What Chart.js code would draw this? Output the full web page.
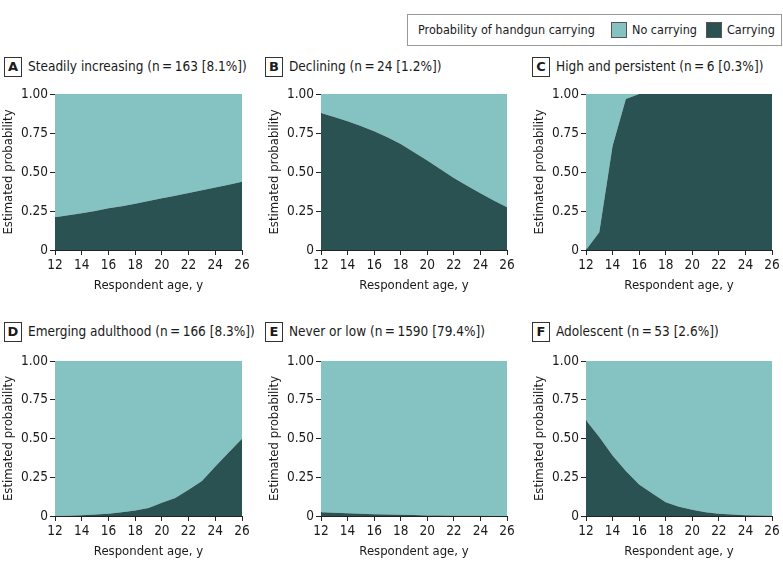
<!DOCTYPE html>
<html>
<head>
<meta charset="utf-8">
<script src="https://cdn.jsdelivr.net/npm/chart.js@4.4.1/dist/chart.umd.min.js"></script>
<style>
  body { margin: 0; width: 783px; height: 569px; background: #fff; position: relative; overflow: hidden;
         font-family: 'DejaVu Sans Condensed', sans-serif; color: #1a1a1a; }
  .legend { position: absolute; left: 407px; top: 14px; width: 375px; height: 32px; border: 1px solid #999;
            box-sizing: border-box; font-size: 12.5px; }
  .legend span { position: absolute; top: 7px; white-space: nowrap; }
  .legend i { position: absolute; top: 7px; width: 16px; height: 16px; border: 1px solid #555; box-sizing: border-box; }
  .ptitle { position: absolute; font-size: 13.5px; white-space: nowrap; }
  .ptitle b { position: absolute; left: 0; top: 0; width: 18px; height: 20px; border: 1px solid #333; box-sizing: border-box;
              text-align: center; line-height: 18px; font-size: 13px; font-family: 'DejaVu Sans', sans-serif; }
  .ptitle span { position: absolute; top: 1px; }
  canvas { position: absolute; }
</style>
</head>
<body>
<div class="legend">
  <span style="left:10px">Probability of handgun carrying</span>
  <i style="left:203px;background:#85c3c2"></i><span style="left:224px">No carrying</span>
  <i style="left:298px;background:#2a5253"></i><span style="left:319px">Carrying</span>
</div>
<script>
const ages = [12, 13, 14, 15, 16, 17, 18, 19, 20, 21, 22, 23, 24, 25, 26]
const yTicks = [0, 0.25, 0.5, 0.75, 1]
const panelLetters = ['A', 'B', 'C', 'D', 'E', 'F']
const panelTitles = [
  'Steadily increasing (n\u2009=\u2009163 [8.1%])',
  'Declining (n\u2009=\u200924 [1.2%])',
  'High and persistent (n\u2009=\u20096 [0.3%])',
  'Emerging adulthood (n\u2009=\u2009166 [8.3%])',
  'Never or low (n\u2009=\u20091590 [79.4%])',
  'Adolescent (n\u2009=\u200953 [2.6%])',
]
// estimated probability of carrying, by age 12..26
const carryA = [0.21, 0.222, 0.235, 0.25, 0.267, 0.281, 0.297, 0.314, 0.332, 0.348, 0.366, 0.383, 0.401, 0.419, 0.437]
const carryB = [0.878, 0.853, 0.825, 0.795, 0.762, 0.722, 0.68, 0.627, 0.574, 0.517, 0.462, 0.412, 0.364, 0.318, 0.274]
const carryC = [0.0, 0.113, 0.667, 0.968, 1.0, 1.0, 1.0, 1.0, 1.0, 1.0, 1.0, 1.0, 1.0, 1.0, 1.0]
const carryD = [0.0, 0.002, 0.005, 0.009, 0.015, 0.024, 0.035, 0.052, 0.085, 0.116, 0.17, 0.226, 0.32, 0.41, 0.499]
const carryE = [0.025, 0.021, 0.018, 0.015, 0.012, 0.01, 0.008, 0.006, 0.004, 0.003, 0.002, 0.0015, 0.001, 0.0005, 0.0]
const carryF = [0.617, 0.51, 0.39, 0.29, 0.204, 0.145, 0.088, 0.06, 0.04, 0.025, 0.015, 0.01, 0.005, 0.003, 0.002]
const carrySeries = [carryA, carryB, carryC, carryD, carryE, carryF]

const colNo = '#85c3c2'
const colYes = '#2a5253'
const fontFam = "'DejaVu Sans Condensed', sans-serif"

// chart-area placement of each panel
const areaLeft = [55, 321, 586]
const areaRight = [242, 507, 772]
const areaTop = [94, 361]
const areaBottom = [250, 516]
const titleLeft = [4, 265, 532]
const titleTop = [57, 322]
const yAxisW = 55
const xAxisH = 46
const padTop = 12
const padRight = 12

carrySeries.forEach((carry, i) => {
  const col = i % 3
  const row = Math.floor(i / 3)

  const t = document.createElement('div')
  t.className = 'ptitle'
  t.style.left = titleLeft[col] + 'px'
  t.style.top = titleTop[row] + 'px'
  t.innerHTML = `<b>${panelLetters[i]}</b><span style="left:24px">${panelTitles[i]}</span>`
  document.body.appendChild(t)

  const cv = document.createElement('canvas')
  cv.width = areaRight[col] - areaLeft[col] + yAxisW + padRight
  cv.height = areaBottom[row] - areaTop[row] + padTop + xAxisH
  cv.style.left = (areaLeft[col] - yAxisW) + 'px'
  cv.style.top = (areaTop[row] - padTop) + 'px'
  document.body.appendChild(cv)

  new Chart(cv, {
    type: 'line',
    data: {
      datasets: [
        {
          label: 'Carrying',
          data: ages.map((a, k) => ({ x: a, y: carry[k] })),
          backgroundColor: colYes,
          borderWidth: 0,
          pointRadius: 0,
          fill: 'origin',
          tension: 0,
        },
        {
          label: 'No carrying',
          data: ages.map((a, k) => ({ x: a, y: 1 - carry[k] })),
          backgroundColor: colNo,
          borderWidth: 0,
          pointRadius: 0,
          fill: '-1',
          tension: 0,
        },
      ],
    },
    options: {
      responsive: false,
      animation: false,
      devicePixelRatio: 1,
      layout: { padding: { top: padTop, right: padRight, left: 0, bottom: 0 } },
      plugins: { legend: { display: false }, tooltip: { enabled: false } },
      scales: {
        x: {
          type: 'linear',
          min: 12,
          max: 26,
          afterFit: (s) => { s.height = xAxisH },
          ticks: { stepSize: 2, padding: 2, color: '#1a1a1a', font: { family: fontFam, size: 13.5 } },
          grid: { drawOnChartArea: false, tickLength: 5, color: '#222' },
          border: { color: '#222' },
          title: { display: true, text: 'Respondent age, y', color: '#1a1a1a', padding: { top: 0, bottom: 3 }, font: { family: fontFam, size: 13 } },
        },
        y: {
          stacked: true,
          min: 0,
          max: 1,
          afterFit: (s) => { s.width = yAxisW },
          afterBuildTicks: (s) => { s.ticks = yTicks.map((v) => ({ value: v })) },
          ticks: {
            padding: 2,
            color: '#1a1a1a',
            font: { family: fontFam, size: 13.5 },
            callback: (v) => (v === 0 ? '0' : v.toFixed(2)),
          },
          grid: { drawOnChartArea: false, tickLength: 5, color: '#222' },
          border: { color: '#222' },
          title: { display: true, text: 'Estimated probability', color: '#1a1a1a', padding: { top: 1, bottom: 0 }, font: { family: fontFam, size: 13 } },
        },
      },
    },
  })
})
</script>
</body>
</html>
